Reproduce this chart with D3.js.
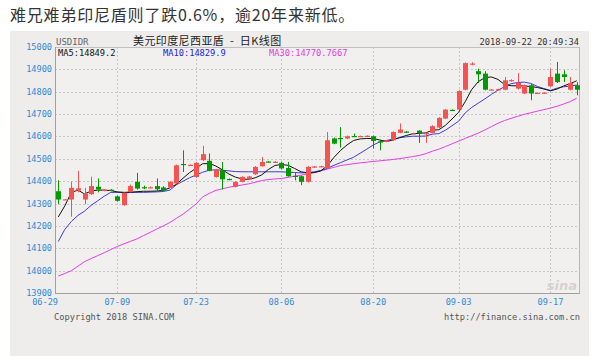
<!DOCTYPE html>
<html><head><meta charset="utf-8">
<script src="https://cdn.jsdelivr.net/npm/d3@7/dist/d3.min.js"></script>
<style>html,body{margin:0;padding:0;background:#fff;}svg{display:block;}</style>
</head><body>
<svg id="c" width="608" height="356"></svg>
<script>
const pageTitle = "难兄难弟印尼盾则了跌0.6%，逾20年来新低。";
const chartTitle = "美元印度尼西亚盾  -  日K线图";
const symbol = "USDIDR";
const stamp = "2018-09-22 20:49:34";
const maLabels = ["MA5:14849.2", "MA10:14829.9", "MA30:14770.7667"];
const yTicks = [13900,14000,14100,14200,14300,14400,14500,14600,14700,14800,14900,15000];
const xTickLabels = ["06-29","07-09","07-23","08-06","08-20","09-03","09-17"];
const xTickIndex = [0, 9, 21, 34, 48, 61, 75];

const opens = [14355,14317,14318,14358,14318,14342,14375,14358,14362,14332,14293,14352,14397,14373,14370,14378,14372,14372,14390,14477,
14470,14419,14494,14491,14419,14449,14410,14375,14397,14408,14431,14467,14488,14484,14482,14459,14424,14422,14397,14463,
14464,14457,14591,14593,14591,14602,14600,14600,14601,14578,14578,14583,14616,14622,14612,14626,14610,14616,14640,14680,
14719,14720,14809,14924,14892,14881,14808,14808,14809,14849,14814,14792,14829,14793,14793,14824,14881,14878,14809,14829];
const highs = [14404,14320,14398,14446,14370,14420,14412,14365,14364,14336,14350,14385,14437,14380,14376,14412,14378,14400,14474,14538,
14475,14485,14558,14524,14455,14486,14412,14400,14422,14424,14468,14508,14490,14490,14487,14486,14441,14425,14468,14468,
14469,14620,14595,14642,14604,14613,14604,14605,14604,14586,14584,14623,14658,14625,14616,14628,14617,14650,14686,14723,
14721,14806,14931,14932,14903,14892,14812,14813,14866,14856,14883,14832,14836,14797,14798,14903,14933,14896,14866,14843];
const lows = [14297,14316,14241,14350,14297,14338,14350,14355,14355,14308,14290,14350,14362,14364,14368,14352,14355,14370,14388,14441,
14468,14415,14490,14444,14416,14363,14404,14372,14395,14405,14428,14465,14483,14482,14452,14420,14404,14382,14394,14460,
14462,14455,14565,14550,14588,14597,14598,14598,14546,14538,14575,14580,14614,14616,14610,14571,14571,14614,14637,14678,
14714,14718,14806,14918,14839,14806,14806,14806,14806,14845,14810,14789,14762,14791,14791,14822,14839,14843,14806,14784];
const closes = [14318,14319,14370,14368,14345,14378,14363,14362,14358,14312,14348,14378,14367,14371,14373,14364,14357,14397,14471,14474,
14473,14482,14521,14446,14452,14408,14407,14397,14419,14421,14464,14486,14485,14487,14457,14422,14421,14397,14464,14466,
14467,14583,14568,14590,14601,14599,14602,14603,14580,14575,14581,14620,14631,14619,14614,14614,14615,14646,14683,14720,
14716,14803,14928,14926,14878,14809,14810,14811,14851,14852,14839,14829,14792,14795,14796,14866,14843,14866,14839,14809];
const ma5 = [14240,14290,14350,14360,14343,14356,14360,14360,14358,14352,14350,14351,14353,14355,14355,14356,14359,14370,14386,14413,
14438,14458,14478,14479,14468,14451,14432,14418,14410,14408,14415,14428,14452,14470,14475,14471,14457,14442,14437,14438,
14446,14469,14506,14537,14562,14582,14589,14591,14591,14584,14577,14584,14595,14604,14612,14614,14616,14628,14630,14650,
14678,14708,14755,14810,14845,14863,14866,14855,14832,14827,14826,14826,14823,14819,14812,14804,14812,14826,14836,14849];
const ma10 = [14130,14185,14220,14247,14266,14292,14312,14333,14350,14350,14349,14349,14350,14350,14351,14352,14354,14360,14384,14400,
14415,14428,14440,14449,14451,14449,14446,14443,14442,14442,14442,14442,14442,14442,14442,14440,14439,14437,14438,14442,
14448,14457,14471,14483,14495,14507,14525,14543,14562,14576,14582,14588,14594,14598,14601,14601,14602,14610,14613,14628,
14648,14668,14705,14730,14749,14768,14788,14807,14822,14836,14841,14843,14837,14824,14814,14806,14816,14822,14825,14830];
const ma30 = [13976,13987,14000,14020,14040,14054,14067,14080,14094,14108,14120,14131,14142,14157,14171,14186,14200,14215,14234,14252,
14275,14298,14330,14345,14359,14366,14373,14378,14383,14388,14395,14403,14407,14410,14412,14417,14422,14427,14433,14440,
14446,14454,14462,14470,14474,14478,14482,14485,14488,14491,14494,14497,14501,14505,14510,14515,14523,14534,14543,14555,
14567,14579,14591,14603,14615,14629,14644,14659,14671,14681,14690,14699,14706,14713,14720,14727,14735,14745,14756,14771];

const N = closes.length;
const L = 55, R = 580, T = 47, B = 293;
const svg = d3.select("#c");
const mono = "'DejaVu Sans Mono','Liberation Mono',monospace";
const cjk = "'Noto Sans CJK SC','Noto Sans',sans-serif";

svg.append("rect").attr("width",608).attr("height",356).attr("fill","#fff");
svg.append("text").attr("x",10).attr("y",21).attr("font-family",cjk).attr("font-size",16)
  .attr("letter-spacing",0.8).attr("fill","#333").text(pageTitle);
svg.append("rect").attr("x",10).attr("y",31).attr("width",579).attr("height",325).attr("fill","#eeedec");
svg.append("rect").attr("x",L).attr("y",T).attr("width",R-L).attr("height",B-T).attr("fill","#f1f0ef");

const x = d3.scaleLinear().domain([-0.5, N-0.5]).range([L, R]);
const y = d3.scaleLinear().domain([13900, 15000]).range([B, T]);
const step = x(1) - x(0);
const bw = Math.round(step*0.76);

const grid = svg.append("g").attr("stroke","#c6c6c6").attr("stroke-dasharray","2,2").attr("stroke-width",1);
yTicks.filter(v => v>13900 && v<15000).forEach(v => {
  const yy = Math.round(y(v))+0.5;
  grid.append("line").attr("x1",L).attr("x2",R).attr("y1",yy).attr("y2",yy);
});
xTickIndex.slice(1).forEach(i => {
  const xx = Math.round(x(i))+0.5;
  grid.append("line").attr("x1",xx).attr("x2",xx).attr("y1",T).attr("y2",B);
});

// frame
svg.append("line").attr("x1",L).attr("x2",R).attr("y1",T+0.5).attr("y2",T+0.5).attr("stroke","#c0c0c0");
svg.append("line").attr("x1",R-0.5).attr("x2",R-0.5).attr("y1",T).attr("y2",B).attr("stroke","#b8b8b8");
svg.append("line").attr("x1",L+0.5).attr("x2",L+0.5).attr("y1",T).attr("y2",B+1).attr("stroke","#a0a0a0");
svg.append("line").attr("x1",L).attr("x2",R).attr("y1",B+0.5).attr("y2",B+0.5).attr("stroke","#a0a0a0");

// y labels
svg.append("g").selectAll("text").data(yTicks).join("text")
  .attr("x",52).attr("y",d => y(d)+3).attr("text-anchor","end")
  .attr("font-family",mono).attr("font-size",8.6).attr("fill","#2f8ad6").text(d => d);
// x labels
svg.append("g").selectAll("text").data(xTickLabels).join("text")
  .attr("x",(d,i) => i===0 ? L+3 : x(xTickIndex[i])).attr("y",304.5)
  .attr("text-anchor",(d,i) => i===0 ? "end" : "middle")
  .attr("font-family",mono).attr("font-size",8.6).attr("fill","#2f8ad6").text(d => d);

// watermark
svg.append("text").attr("x",577).attr("y",290).attr("text-anchor","end").attr("font-family","'DejaVu Sans',sans-serif")
  .attr("font-style","italic").attr("font-weight","bold").attr("font-size",13).attr("fill","#d4d2d2").text("sina");

// MA lines
const line = arr => d3.line().x((d,i) => x(i)).y(d => y(d))(arr);
[[ma30,"#e63ee6"],[ma10,"#3c3cd8"],[ma5,"#111"]].forEach(([arr,col]) => {
  svg.append("path").attr("d",line(arr)).attr("fill","none").attr("stroke",col).attr("stroke-width",1);
});

// candles
const up = "#f55252", down = "#009a00";
const cg = svg.append("g");
d3.range(N).forEach(i => {
  const o = opens[i], c = closes[i], h = highs[i], l = lows[i];
  const col = c >= o ? up : down;
  const cx = Math.round(x(i));
  cg.append("line").attr("x1",cx+0.5).attr("x2",cx+0.5).attr("y1",y(h)).attr("y2",y(l))
    .attr("stroke",col).attr("stroke-width",1);
  const top = y(Math.max(o,c)), bot = y(Math.min(o,c));
  cg.append("rect").attr("x",cx-Math.floor(bw/2)).attr("width",bw)
    .attr("y",top).attr("height",Math.max(1.2, bot-top)).attr("fill",col);
});

// header texts
svg.append("text").attr("x",56).attr("y",45).attr("font-family",mono).attr("font-size",9)
  .attr("fill","#666").text(symbol);
svg.append("text").attr("x",133).attr("y",45).attr("font-family",cjk).attr("font-size",11)
  .attr("letter-spacing",0.4).attr("fill","#222").attr("xml:space","preserve").style("white-space","pre").text(chartTitle);
svg.append("text").attr("x",579).attr("y",45).attr("text-anchor","end").attr("font-family",mono)
  .attr("font-size",8.7).attr("fill","#333").text(stamp);
const maColors = ["#111","#2222e0","#e23ae2"], maX = [58,163,269];
maLabels.forEach((t,i) => svg.append("text").attr("x",maX[i]).attr("y",55.5).attr("font-family",mono)
  .attr("font-size",8.7).attr("fill",maColors[i]).text(t));

// footer
svg.append("text").attr("x",54).attr("y",320).attr("font-family",mono).attr("font-size",8.7)
  .attr("fill","#555").text("Copyright 2018 SINA.COM");
svg.append("text").attr("x",580).attr("y",320).attr("text-anchor","end").attr("font-family",mono).attr("font-size",8.7)
  .attr("fill","#555").text("http://finance.sina.com.cn");
</script>
</body></html>
